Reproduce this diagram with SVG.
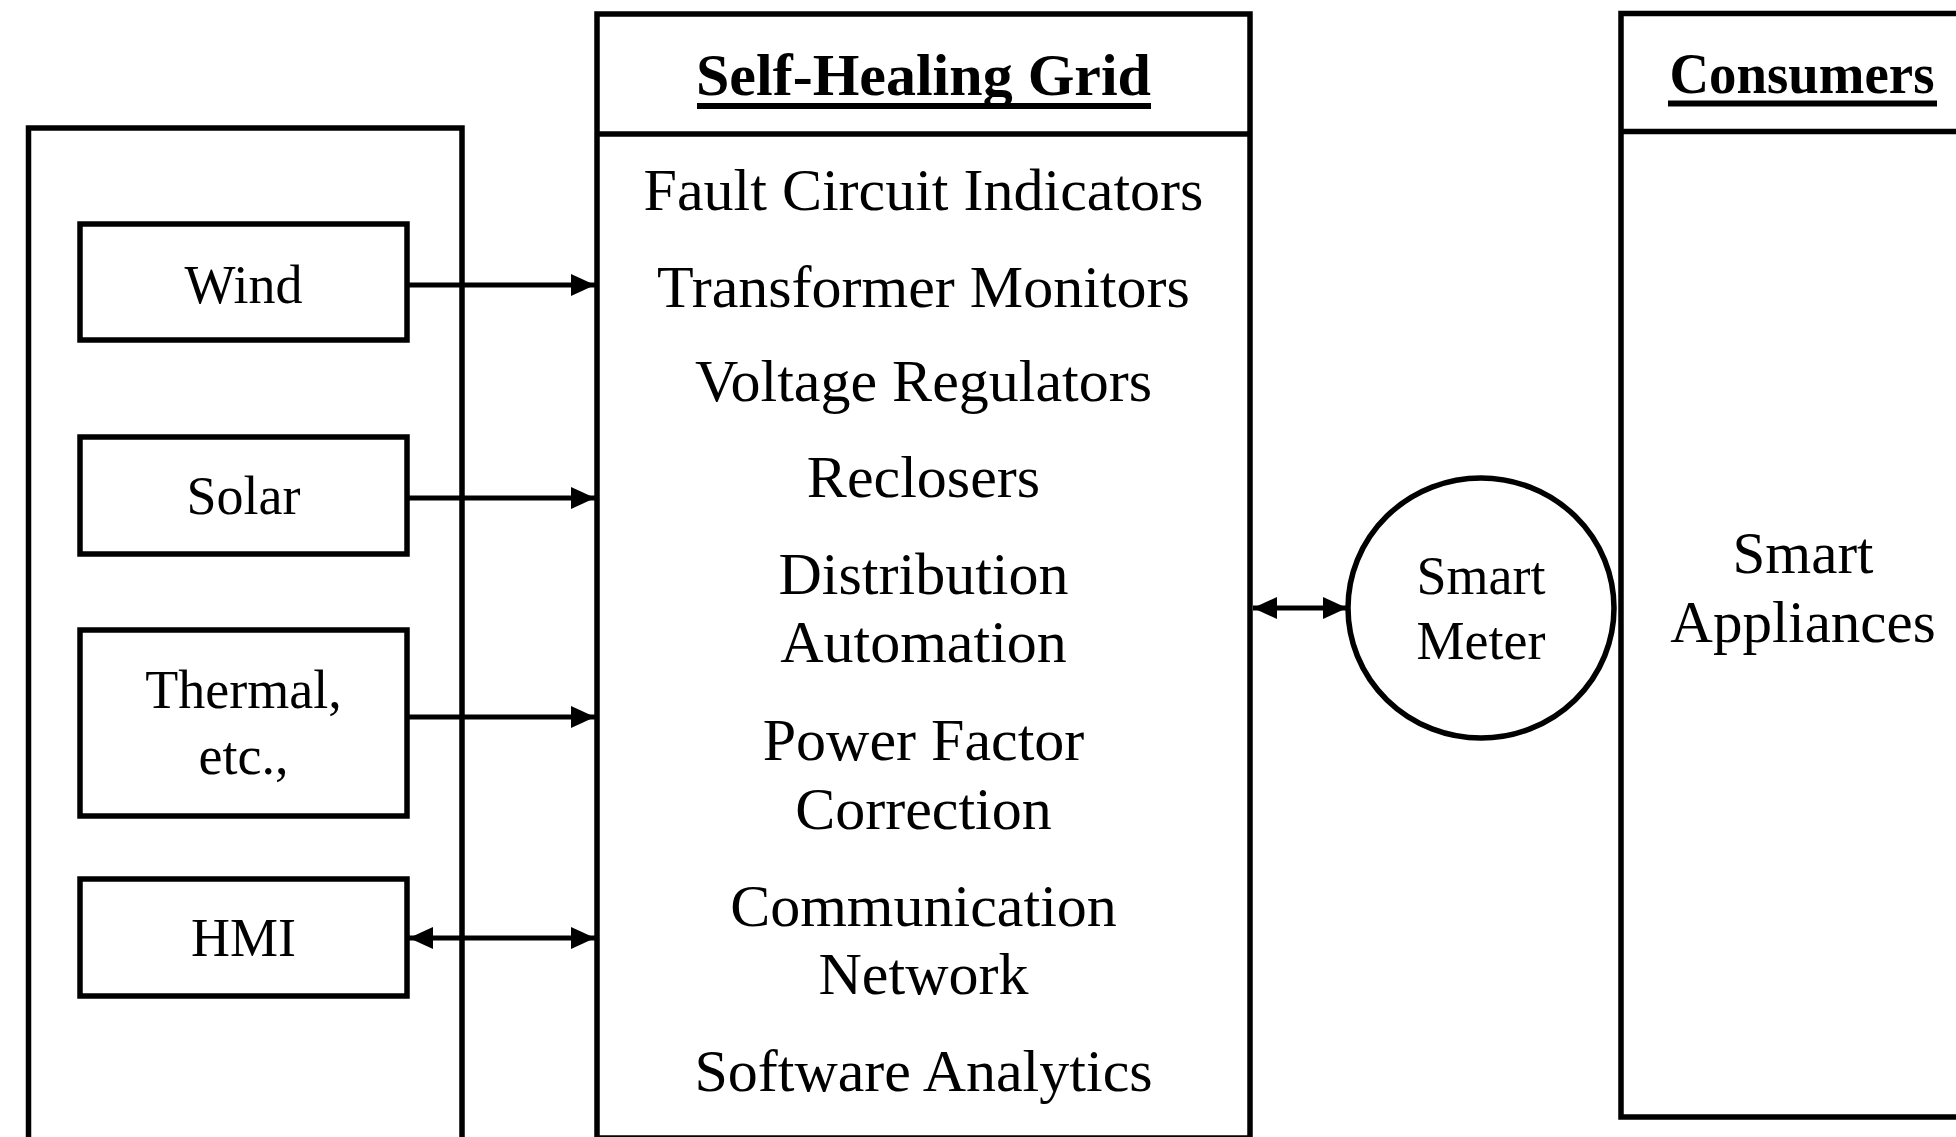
<svg xmlns="http://www.w3.org/2000/svg" width="1956" height="1137" viewBox="0 0 1956 1137">
  <style>
    .box { fill: none; stroke: #000; stroke-width: 5.5; }
    .conn { fill: none; stroke: #000; stroke-width: 5; }
    .t { font-family: "Liberation Serif", "Times New Roman", serif; font-size: 60px; text-anchor: middle; fill: #000; }
    .s { font-size: 54px; }
    .b { font-weight: bold; }
    .ul { stroke: #000; stroke-width: 6; }
  </style>
  <defs>
    <marker id="ah" markerUnits="userSpaceOnUse" viewBox="0 0 24 24" markerWidth="24" markerHeight="24" refX="24" refY="12" orient="auto-start-reverse">
      <path d="M0,1 L24,12 L0,23 z" fill="#000"/>
    </marker>
  </defs>
  <rect width="1956" height="1137" fill="#fff"/>

  <g id="sources">
    <path class="box" d="M28.5,1145 V128 H462 V1145"/>
  </g>
  <g id="wind">
    <rect class="box" x="80" y="224" width="327" height="116"/>
    <text class="t s" x="243.5" y="303">Wind</text>
  </g>
  <g id="solar">
    <rect class="box" x="80" y="437" width="327" height="117"/>
    <text class="t s" x="243.5" y="514">Solar</text>
  </g>
  <g id="thermal">
    <rect class="box" x="80" y="630" width="327" height="186"/>
    <text class="t s" x="243.5" y="708">Thermal,</text>
    <text class="t s" x="243.5" y="774">etc.,</text>
  </g>
  <g id="hmi">
    <rect class="box" x="80" y="879" width="327" height="117"/>
    <text class="t s" x="243.5" y="956">HMI</text>
  </g>

  <g id="grid">
    <rect class="box" x="597" y="14" width="653" height="1124"/>
    <line class="box" x1="597" y1="134" x2="1250" y2="134"/>
    <text class="t b" x="923.5" y="95">Self-Healing Grid</text>
    <line class="ul" x1="697" y1="106" x2="1151" y2="106"/>
    <text class="t" x="923.5" y="210">Fault Circuit Indicators</text>
    <text class="t" x="923.5" y="307">Transformer Monitors</text>
    <text class="t" x="923.5" y="401">Voltage Regulators</text>
    <text class="t" x="923.5" y="497">Reclosers</text>
    <text class="t" x="923.5" y="594">Distribution</text>
    <text class="t" x="923.5" y="662">Automation</text>
    <text class="t" x="923.5" y="760">Power Factor</text>
    <text class="t" x="923.5" y="829">Correction</text>
    <text class="t" x="923.5" y="926">Communication</text>
    <text class="t" x="923.5" y="994">Network</text>
    <text class="t" x="923.5" y="1091">Software Analytics</text>
  </g>

  <g id="smart-meter">
    <ellipse class="box" cx="1481" cy="608" rx="133" ry="130"/>
    <text class="t s" x="1481" y="594">Smart</text>
    <text class="t s" x="1481" y="659">Meter</text>
  </g>

  <g id="consumers">
    <path class="box" d="M1965,13.5 H1621 V1117 H1965"/>
    <line class="box" x1="1621" y1="131.5" x2="1965" y2="131.5"/>
    <text class="t b" x="1802" y="93" style="font-size:56px" textLength="265" lengthAdjust="spacingAndGlyphs">Consumers</text>
    <line class="ul" x1="1668" y1="103.5" x2="1937" y2="103.5"/>
    <text class="t" x="1803" y="573" style="font-size:59px">Smart</text>
    <text class="t" x="1803" y="642" style="font-size:59px">Appliances</text>
  </g>

  <g id="connectors">
    <line class="conn" x1="407" y1="285" x2="595" y2="285" marker-end="url(#ah)"/>
    <line class="conn" x1="407" y1="498" x2="595" y2="498" marker-end="url(#ah)"/>
    <line class="conn" x1="407" y1="717" x2="595" y2="717" marker-end="url(#ah)"/>
    <line class="conn" x1="409" y1="938" x2="595" y2="938" marker-start="url(#ah)" marker-end="url(#ah)"/>
    <line class="conn" x1="1253" y1="608" x2="1347" y2="608" marker-start="url(#ah)" marker-end="url(#ah)"/>
  </g>
</svg>
